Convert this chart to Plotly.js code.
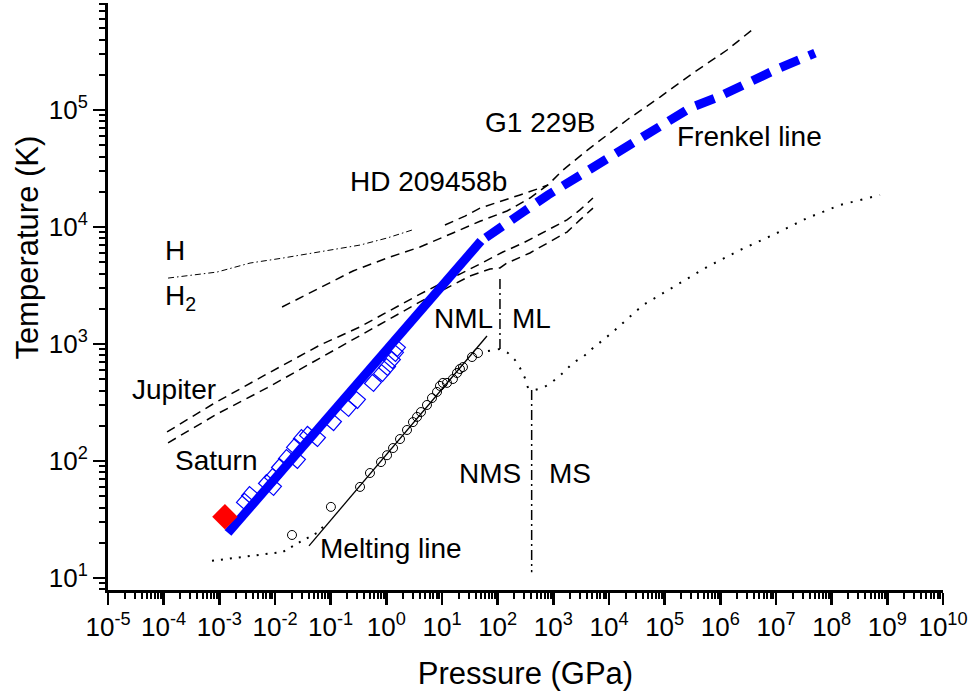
<!DOCTYPE html>
<html><head><meta charset="utf-8">
<script src="https://cdn.plot.ly/plotly-3.0.1.min.js"></script>
<style>html,body{margin:0;padding:0;background:#fff}#chart{width:973px;height:698px}</style>
</head><body><div id="chart"></div>
<script>
// ---- data (pressure in GPa, temperature in K) ----
var frenkelSolidP = [1.43e-3, 50];
var frenkelSolidT = [24.3, 7590];
var frenkelDashP = [50, 101, 285, 802, 2660, 7800, 2.38e4, 8.24e4, 2.85e5, 9.08e5, 3.01e6, 9.57e6, 5.01e7];
var frenkelDashT = [7590, 9420, 1.34e4, 1.88e4, 2.67e4, 3.74e4, 5.22e4, 7.45e4, 1.04e5, 1.29e5, 1.70e5, 2.20e5, 3.07e5];
var squaresP = [2.89e-3, 3.56e-3, 7.18e-3, 9.2e-3, 9.2e-3, 1.23e-2, 1.64e-2, 2.29e-2, 2.48e-2, 3.05e-2, 3.92e-2, 5.68e-2, 0.110, 0.205, 0.297, 0.575, 0.836, 1.03, 1.26, 1.43, 1.55];
var squaresT = [44.7, 51.2, 64.9, 72.9, 60, 88.9, 106, 132, 102, 157, 167, 157, 215, 284, 332, 465, 565, 635, 729, 838, 925];
var redP = [1.26e-3];
var redT = [33.4];
var circlesP = [0.0202, 0.101, 0.337, 0.508, 0.802, 1.03, 1.32, 1.76, 2.35, 3.01, 3.56, 4.19, 5.37, 6.61, 8.13, 9.20, 10.4, 12.3, 15.7, 18.6, 21.0, 23.8, 34.6, 44.3];
var circlesT = [23.3, 40.5, 60.0, 78.9, 97.9, 112, 129, 154, 184, 215, 238, 262, 301, 345, 389, 438, 465, 465, 502, 565, 611, 635, 774, 838];
var meltingP = [0.0408, 64.3];
var meltingT = [18.8, 1170];
var lowDotP = [7.38e-4, 3.56e-3, 0.0139, 0.0281, 0.0568, 0.0895];
var lowDotT = [14.0, 15.4, 16.7, 20.3, 24.3, 30.1];
var highDotP = [67.0, 110, 153, 205, 252, 309, 351, 468, 652, 946, 1490, 2250, 3410, 5150, 7800, 1.18e4, 4.07e4, 1.41e5, 5.75e5, 2.25e6, 8.81e6, 3.60e7, 1.41e8, 7.38e8];
var highDotT = [871, 906, 838, 729, 624, 512, 421, 405, 421, 473, 565, 689, 774, 925, 1080, 1270, 2150, 3070, 4550, 6350, 8550, 1.19e4, 1.54e4, 1.88e4];
var mlBoundP = [110, 110];
var mlBoundT = [906, 3890];
var msBoundP = [408, 408];
var msBoundT = [405, 11.2];
var hLineP = [1.2e-4, 9.08e-4, 3.56e-3, 0.0139, 0.0973, 0.337, 1.03, 2.89];
var hLineT = [3660, 4120, 4920, 5430, 6350, 7010, 8050, 9420];
var g1P = [0.0134, 0.0643, 0.252, 1.03, 4.02, 15.7, 48.1, 147, 380, 802, 1490, 4550, 2.10e4, 8.24e4, 3.22e5, 1.32e6, 3.70e6];
var g1T = [2070, 3010, 4210, 5430, 6750, 8890, 1.12e4, 1.37e4, 1.77e4, 2.29e4, 3.07e4, 4.73e4, 8.22e4, 1.29e5, 2.07e5, 3.26e5, 4.83e5];
var hdP = [11.3, 25.9, 48.1, 110, 252, 575, 802];
var hdT = [1.04e4, 1.24e4, 1.45e4, 1.64e4, 1.88e4, 2.15e4, 2.29e4];
var jupiterP = [1.15e-4, 7.69e-4, 7.18e-3, 0.0643, 0.337, 4.02, 48.1, 124, 285, 769, 1760, 3010, 5150];
var jupiterT = [177, 307, 555, 979, 1400, 2670, 4830, 6110, 7290, 9420, 1.15e4, 1.40e4, 1.77e4];
var saturnP = [1.2e-4, 9.08e-4, 7.18e-3, 0.0859, 0.337, 4.02, 31.8, 72.8, 110, 147, 380, 769, 1760, 3010, 5150];
var saturnT = [143, 252, 421, 822, 1190, 2290, 3810, 4380, 4470, 4920, 6000, 7290, 9060, 1.15e4, 1.45e4];
var xTickExp = [-5, -4, -3, -2, -1, 0, 1, 2, 3, 4, 5, 6, 7, 8, 9, 10];
var yTickExp = [1, 2, 3, 4, 5];

// ---- helpers for tick arrays ----
function majorVals(exps){ return exps.map(function(e){ return Math.pow(10, e); }); }
function majorText(exps){ return exps.map(function(e){ return '10<sup>' + e + '</sup>'; }); }
function minorVals(e0, e1){ var v=[]; for(var e=e0;e<=e1;e++){ for(var m=2;m<=9;m++){ v.push(m*Math.pow(10,e)); } } return v; }

var BLK = '#000000', BLUE = '#0000FF';
function line(x, y, color, width, dash){ return {x:x, y:y, type:'scatter', mode:'lines', line:{color:color, width:width, dash:dash}, hoverinfo:'skip'}; }

var traces = [
  line(hLineP, hLineT, BLK, 1, '6px,3px,1.5px,3px'),
  line(g1P, g1T, BLK, 1.5, '9px,6px'),
  line(hdP, hdT, BLK, 1.5, '9px,6px'),
  line(jupiterP, jupiterT, BLK, 1.5, '9px,6px'),
  line(saturnP, saturnT, BLK, 1.5, '9px,6px'),
  line(lowDotP, lowDotT, BLK, 2, '2px,7px'),
  line(highDotP, highDotT, BLK, 2, '2px,8px'),
  line(mlBoundP, mlBoundT, BLK, 1.5, '10px,4px,2px,4px'),
  line(msBoundP, msBoundT, BLK, 1.5, '10px,4px,2px,4px'),
  line(meltingP, meltingT, BLK, 1.3, 'solid'),
  {x:circlesP, y:circlesT, type:'scatter', mode:'markers', marker:{symbol:'circle-open', size:9, color:BLK, line:{width:1, color:BLK}}, hoverinfo:'skip'},
  {x:squaresP, y:squaresT, type:'scatter', mode:'markers', marker:{symbol:'square-open', size:12, angle:41, color:BLUE, line:{width:1.2, color:BLUE}}, hoverinfo:'skip'},
  line(frenkelSolidP, frenkelSolidT, BLUE, 9, 'solid'),
  line(frenkelDashP, frenkelDashT, BLUE, 9, '0px,6px,20px,5px'),
  {x:redP, y:redT, type:'scatter', mode:'markers', marker:{symbol:'square', size:18, angle:45, color:'#FF0000', line:{width:0}}, hoverinfo:'skip'}
];

var FONT = 'Arial, "Liberation Sans", sans-serif';
function ann(text, x, y, anchor){ return {text:text, x:x, y:y, xref:'x', yref:'y', showarrow:false, xanchor:anchor, yanchor:'middle', font:{family:FONT, size:28, color:BLK}}; }

var axisCommon = {
  type:'log', showline:true, linewidth:3, linecolor:BLK, mirror:false,
  ticks:'outside', ticklen:12, tickwidth:2.5, tickcolor:BLK,
  tickmode:'array', showgrid:false, zeroline:false,
  tickfont:{family:FONT, size:26, color:BLK}
};

var layout = {
  width:973, height:698,
  margin:{l:108, r:30, t:3, b:108, pad:0},
  paper_bgcolor:'#ffffff', plot_bgcolor:'#ffffff',
  showlegend:false, hovermode:false,
  font:{family:FONT, color:BLK},
  xaxis: Object.assign({}, axisCommon, {
    range:[-5, 10],
    tickvals: majorVals(xTickExp), ticktext: majorText(xTickExp),
    minor:{ticks:'outside', ticklen:6, tickwidth:2, tickcolor:BLK, tickmode:'array', tickvals:minorVals(-5, 9), showgrid:false},
    title:{text:'Pressure (GPa)', font:{family:FONT, size:31, color:BLK}, standoff:22}
  }),
  yaxis: Object.assign({}, axisCommon, {
    range:[0.897, 5.915],
    tickvals: majorVals(yTickExp), ticktext: majorText(yTickExp),
    minor:{ticks:'outside', ticklen:6, tickwidth:2, tickcolor:BLK, tickmode:'array', tickvals:minorVals(0, 5), showgrid:false},
    title:{text:''}
  }),
  annotations:[
    {text:'Temperature (K)', xref:'paper', yref:'paper', x:-0.096, y:0.583, xanchor:'center', yanchor:'middle', textangle:-90, showarrow:false, font:{family:FONT, size:31, color:BLK}},
    ann('H', -4.012, 3.803, 'left'),
    ann('H<sub>2</sub>', -4.012, 3.40, 'left'),
    ann('Jupiter', -4.605, 2.607, 'left'),
    ann('Saturn', -3.832, 2.0, 'left'),
    ann('HD 209458b', -0.689, 4.385, 'left'),
    ann('G1 229B', 1.736, 4.897, 'left'),
    ann('Frenkel line', 5.185, 4.778, 'left'),
    ann('NML', 1.952, 3.222, 'right'),
    ann('ML', 2.221, 3.222, 'left'),
    ann('NMS', 2.455, 1.889, 'right'),
    ann('MS', 2.886, 1.889, 'left'),
    ann('Melting line', -1.228, 1.256, 'left')
  ]
};

Plotly.newPlot('chart', traces, layout, {staticPlot:true, displayModeBar:false});
</script></body></html>
